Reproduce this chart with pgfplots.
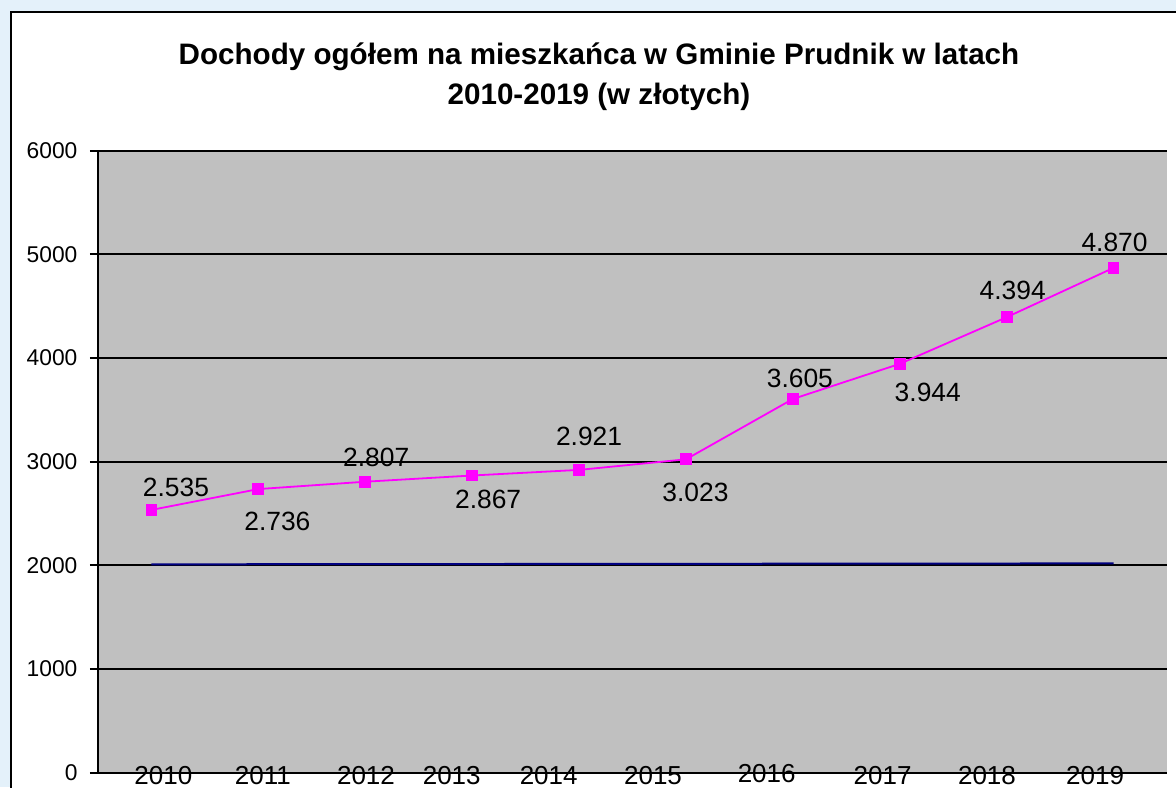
\documentclass[border=0pt]{standalone}
\usepackage{fontspec}
\setmainfont{Liberation Sans}
\usepackage{pgfplots}
\usepackage{pgfplotstable}
\pgfplotsset{compat=1.18}
\definecolor{bgblue}{RGB}{228,241,250}
\definecolor{plotgray}{RGB}{192,192,192}
\definecolor{mag}{RGB}{255,0,255}
\definecolor{navy}{RGB}{0,0,128}

\pgfplotstableread{
x y lab
0 2535 2.535
1 2736 2.736
2 2807 2.807
3 2867 2.867
4 2921 2.921
5 3023 3.023
6 3605 3.605
7 3944 3.944
8 4394 4.394
9 4870 4.870
}\incometable

\pgfplotstableread{
x y
0 2010
1 2011
2 2012
3 2013
4 2014
5 2015
6 2016
7 2017
8 2018
9 2019
}\yeartable

\begin{document}
\begin{tikzpicture}
\useasboundingbox (0pt,0pt) rectangle (588pt,-393.5pt);
\clip (0pt,0pt) rectangle (588pt,-393.5pt);
\begin{scope}[x=0.5pt,y=-0.5pt]
\fill[bgblue] (0,0) rectangle (1176,787);
\filldraw[fill=white,draw=black,line width=1pt] (10.5,11.5) rectangle (1200,820);
\node[font=\bfseries\fontsize{14.8}{20}\selectfont,align=center] at (599,77)
  {Dochody ogółem na mieszkańca w Gminie Prudnik w latach\\2010-2019 (w złotych)};
\end{scope}
\begin{axis}[
  at={(49pt,-386.35pt)}, anchor=south west,
  scale only axis, width=534.5pt, height=311pt,
  xmin=-0.5, xmax=9.5, ymin=0, ymax=6000,
  axis background/.style={fill=plotgray},
  axis x line*=bottom, axis y line*=left,
  axis line style={black,line width=0.9pt},
  ymajorgrids, grid style={black,line width=0.9pt},
  ytick={0,1000,2000,3000,4000,5000,6000},
  yticklabels={0,1000,2000,3000,4000,5000,6000},
  tick align=outside, major tick length=4pt,
  ytick style={black,line width=0.9pt},
  yticklabel style={font=\fontsize{11.4}{13}\selectfont, xshift=-2.75pt},
  xtick={0.111,1.042,2.007,2.809,3.716,4.692,5.755,6.839,7.816,8.827},
  xticklabels={2010,2011,2012,2013,2014,2015,\raisebox{1.35pt}{2016},2017,2018,2019},
  xtick style={draw=none},
  xticklabel style={font=\fontsize{13}{14}\selectfont, anchor=base, yshift=-2pt},
  clip=false,
]
\addplot[navy, line width=1pt, no markers] table[x=x,y=y] {\yeartable};
\addplot[mag, line width=0.9pt, mark=square*, mark size=2.5pt,
  mark options={solid, fill=mag, draw=mag},
  nodes near coords, point meta=explicit symbolic,
  visualization depends on={rawx\as\rx},
  every node near coord/.append style={anchor=center,
    xshift={{12.25,9.5,5.5,8,5,4.75,3.5,14,3,0.5}[int(\rx)]*1pt},
    yshift={{11.5,-16,12,-12,16.5,-16.5,10.5,-14.5,13.5,12.5}[int(\rx)]*1pt},
    font=\fontsize{13.2}{15}\selectfont, text=black}]
  table[x=x,y=y,meta=lab] {\incometable};
\end{axis}
\end{tikzpicture}
\end{document}
